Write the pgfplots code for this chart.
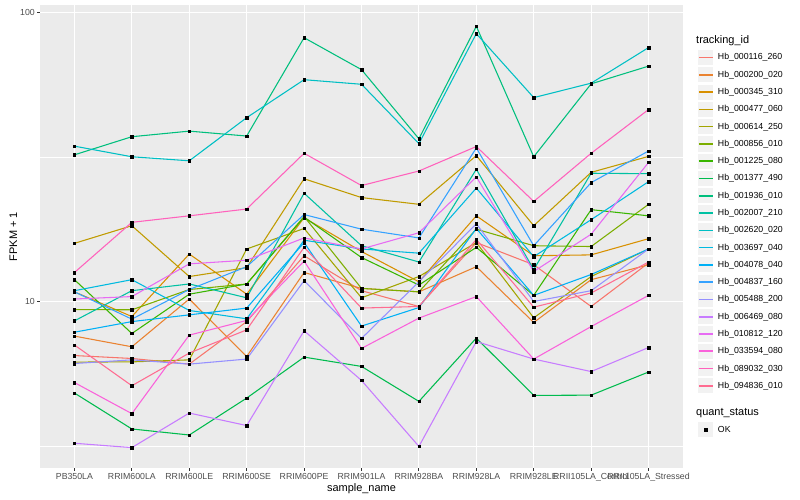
\documentclass[border=0pt]{standalone}
\usepackage{pgfplots}
\usepackage{pgfplotstable}
\pgfplotsset{compat=1.18}
\usepackage{fontspec}
\setmainfont{Liberation Sans}

% ggplot2 hue palette, 20 levels
\definecolor{c1}{HTML}{F8766D}
\definecolor{c2}{HTML}{EA8331}
\definecolor{c3}{HTML}{D89000}
\definecolor{c4}{HTML}{C09B00}
\definecolor{c5}{HTML}{A3A500}
\definecolor{c6}{HTML}{7CAE00}
\definecolor{c7}{HTML}{39B600}
\definecolor{c8}{HTML}{00BB4E}
\definecolor{c9}{HTML}{00BF7D}
\definecolor{c10}{HTML}{00C1A3}
\definecolor{c11}{HTML}{00BFC4}
\definecolor{c12}{HTML}{00BAE0}
\definecolor{c13}{HTML}{00B0F6}
\definecolor{c14}{HTML}{35A2FF}
\definecolor{c15}{HTML}{9590FF}
\definecolor{c16}{HTML}{C77CFF}
\definecolor{c17}{HTML}{E76BF3}
\definecolor{c18}{HTML}{FA62DB}
\definecolor{c19}{HTML}{FF62BC}
\definecolor{c20}{HTML}{FF6C91}
\definecolor{panelbg}{HTML}{EBEBEB}
\definecolor{gray20}{HTML}{333333}
\definecolor{gray30}{HTML}{4D4D4D}
\definecolor{gray95}{HTML}{F2F2F2}

% FPKM + 1, one row per sample, one column per tracking_id
\pgfplotstableread{
x  s1    s2    s3    s4    s5    s6    s7    s8    s9    s10   s11   s12   s13   s14   s15   s16   s17   s18   s19   s20
0  6.50  7.59  10.8  15.9  6.17  9.38  11.9  4.82  32.2  8.57  34.5  10.9  7.83  10.8  6.10  3.23  10.2  5.24  12.6  7.07
1  6.35  6.97  8.87  18.3  6.18  9.36  7.75  3.62  37.2  10.9  31.7  11.9  8.52  8.69  6.28  3.12  10.4  4.09  18.8  5.11
2  6.07  10.2  14.6  12.2  6.28  11.0  10.6  3.45  38.9  11.5  30.7  9.31  8.99  11.0  6.07  4.11  13.5  7.65  19.8  6.63
3  8.52  6.45  10.6  13.1  15.2  11.5  11.5  4.63  37.4  10.3  43.3  8.71  9.49  13.2  6.32  3.72  13.9  8.60  20.9  7.98
4  14.4  12.6  19.5  26.6  17.9  19.7  19.6  6.42  81.9  23.7  58.6  16.3  16.0  20.0  11.8  7.92  16.6  13.8  32.6  15.4
5  10.9  11.1  14.9  22.9  10.3  11.1  14.2  5.96  63.5  15.6  56.5  15.2  8.22  17.8  7.45  5.33  15.2  6.88  25.2  9.49
6  9.61  10.8  11.7  21.7  12.2  10.8  11.4  4.51  36.6  13.7  35.2  14.7  9.53  16.6  11.7  3.15  17.3  8.76  28.3  9.61
7  16.0  13.2  19.8  32.0  16.0  17.8  15.4  7.47  89.7  28.7  84.6  24.7  17.9  34.0  18.6  7.27  27.0  10.4  34.4  16.4
8  13.4  8.46  14.4  18.3  8.78  15.6  10.5  4.73  31.7  12.9  50.8  14.3  10.5  15.6  10.0  6.32  12.7  6.32  22.2  9.56
9  9.61  11.9  14.5  28.0  12.2  15.5  20.8  4.74  56.7  27.8  57.0  19.2  12.4  25.8  10.9  5.72  17.1  8.19  32.6  10.7
10 13.6  13.4  16.5  31.8  15.2  21.7  19.8  5.70  65.3  27.7  75.7  26.0  15.2  33.2  15.2  6.93  30.3  10.5  46.2  13.7
}\fpkm

\begin{document}
\begin{tikzpicture}
\begin{axis}[
  at={(40bp,32bp)}, anchor=south west,
  width=643bp, height=463bp, scale only axis,
  xmin=-0.6, xmax=10.6,
  ymode=log, ymin=2.652, ymax=106.3,
  xtick={0,...,10},
  xticklabels={PB350LA,RRIM600LA,RRIM600LE,RRIM600SE,RRIM600PE,RRIM901LA,RRIM928BA,RRIM928LA,RRIM928LE,RRII105LA\_Control,RRII105LA\_Stressed},
  ytick={10,100}, yticklabels={10,100},
  minor ytick={3.1623,31.623},
  grid=both,
  major grid style={white, line width=1.07bp},
  minor grid style={white, line width=0.53bp},
  axis background/.style={fill=panelbg},
  axis line style={draw=none},
  tick align=outside, tick pos=left,
  major tick length=2.74bp, minor tick length=0pt,
  tick style={gray20, line width=1.07bp},
  ticklabel style={font=\fontsize{8.8}{10}\selectfont, text=gray30},
  xticklabel style={inner sep=0pt, anchor=north, yshift=-2.2bp},
  yticklabel style={inner sep=0pt, anchor=east, xshift=-2.2bp},
  xlabel={sample\_name}, ylabel={FPKM + 1},
  label style={font=\fontsize{11}{13}\selectfont},
  xlabel style={at={(axis description cs:0.5,-0.0501)}, anchor=base, inner sep=0pt},
  ylabel style={at={(axis description cs:-0.0355,0.5)}, anchor=base, inner sep=0pt},
  legend style={at={(0,0)}, anchor=north west, xshift=657bp, yshift=419.3bp,
    draw=none, fill=none, inner sep=0pt, row sep=0pt, column sep=3.5bp,
    font=\fontsize{8.8}{10}\selectfont, nodes={inner sep=0pt, anchor=west}},
  legend cell align=left,
  legend image code/.code={%
    \filldraw[fill=gray95, draw=white, line width=1.07bp] (0.535bp,-8.105bp) rectangle (16.745bp,8.105bp);
    \draw[#1, line width=1.6bp] (1.73bp,0bp) -- (15.55bp,0bp);},
]
\pgfplotsinvokeforeach{1,...,20}{
  \addplot[c#1, line width=1.07bp] table[x=x, y=s#1]{\fpkm};
}
\pgfplotsinvokeforeach{1,...,20}{
  \addplot[forget plot, only marks, mark=square*, mark size=1.2bp,
    mark options={fill=black, draw=none}] table[x=x, y=s#1]{\fpkm};
}
\legend{Hb\_000116\_260,Hb\_000200\_020,Hb\_000345\_310,Hb\_000477\_060,Hb\_000614\_250,
  Hb\_000856\_010,Hb\_001225\_080,Hb\_001377\_490,Hb\_001936\_010,Hb\_002007\_210,
  Hb\_002620\_020,Hb\_003697\_040,Hb\_004078\_040,Hb\_004837\_160,Hb\_005488\_200,
  Hb\_006469\_080,Hb\_010812\_120,Hb\_033594\_080,Hb\_089032\_030,Hb\_094836\_010}
\end{axis}

% second legend: quant_status
\begin{axis}[
  at={(40bp,32bp)}, anchor=south west,
  width=643bp, height=463bp, scale only axis,
  hide axis, xmin=0, xmax=1, ymin=0, ymax=1,
  legend style={at={(0,0)}, anchor=north west, xshift=657bp, yshift=47bp,
    draw=none, fill=none, inner sep=0pt, column sep=3.5bp,
    font=\fontsize{8.8}{10}\selectfont, nodes={inner sep=0pt, anchor=west}},
  legend image code/.code={%
    \filldraw[fill=gray95, draw=white, line width=1.07bp] (0.535bp,-8.105bp) rectangle (16.745bp,8.105bp);
    \draw[#1] plot coordinates {(8.64bp,0bp)};},
]
\addlegendimage{only marks, mark=square*, mark size=1.3bp, mark options={fill=black, draw=none}}
\addlegendentry{OK}
\end{axis}

\node[anchor=base west, inner sep=0pt, font=\fontsize{11}{13}\selectfont] at (696bp,456.5bp) {tracking\_id};
\node[anchor=base west, inner sep=0pt, font=\fontsize{11}{13}\selectfont] at (696bp,84.7bp) {quant\_status};

\pgfresetboundingbox
\path (0bp,0bp) rectangle (800bp,500bp);
\end{tikzpicture}
\end{document}
